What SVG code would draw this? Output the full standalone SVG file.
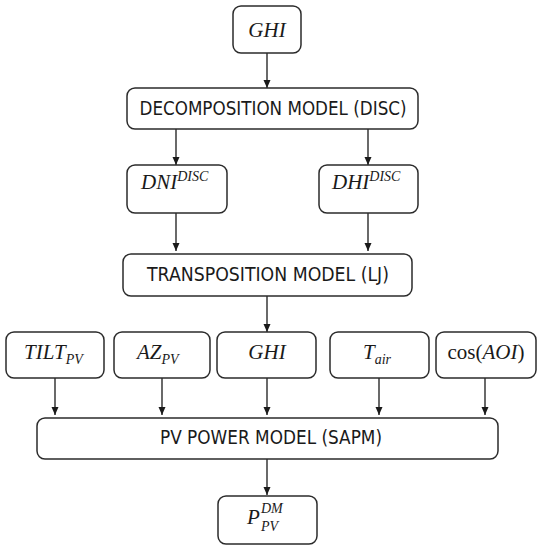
<svg xmlns="http://www.w3.org/2000/svg" width="542" height="550" viewBox="0 0 542 550">
<style>
.box{fill:#fff;stroke:#2b2b2b;stroke-width:1.5}
.lbl{font-family:"DejaVu Sans","Liberation Sans",sans-serif;font-size:20px;fill:#1a1a1a;text-anchor:middle}
.m{font-family:"Liberation Serif","DejaVu Serif",serif;font-style:italic;font-size:21px;fill:#1a1a1a}
.s{font-size:14px}
.up{font-style:normal}
.c{stroke:#1a1a1a;stroke-width:1.3;fill:none;marker-end:url(#ah)}
</style>
<defs>
<marker id="ah" viewBox="0 0 8 8" refX="8" refY="4" markerWidth="8" markerHeight="8" markerUnits="userSpaceOnUse" orient="auto">
<path d="M0,0.5 L8,4 L0,7.5 Z" fill="#1a1a1a"/>
</marker>
</defs>
<rect width="542" height="550" fill="#fff"/>
<g id="connectors">
<line class="c" x1="267" y1="53" x2="267" y2="88"/>
<line class="c" x1="176" y1="129" x2="176" y2="165"/>
<line class="c" x1="368" y1="129" x2="368" y2="165"/>
<line class="c" x1="176" y1="213" x2="176" y2="251"/>
<line class="c" x1="368" y1="213" x2="368" y2="251"/>
<line class="c" x1="267" y1="296" x2="267" y2="332"/>
<line class="c" x1="55" y1="378" x2="55" y2="415"/>
<line class="c" x1="162" y1="378" x2="162" y2="415"/>
<line class="c" x1="267" y1="378" x2="267" y2="415"/>
<line class="c" x1="379" y1="378" x2="379" y2="415"/>
<line class="c" x1="485" y1="378" x2="485" y2="415"/>
<line class="c" x1="267" y1="459" x2="267" y2="495"/>
</g>
<g id="ghi_top">
<rect class="box" x="233" y="6" width="68" height="47" rx="8"/>
<text class="m" x="267" y="37" text-anchor="middle">GHI</text>
</g>
<g id="decomposition">
<rect class="box" x="127" y="88" width="291" height="41" rx="8"/>
<text class="lbl" x="273" y="115" textLength="267" lengthAdjust="spacingAndGlyphs">DECOMPOSITION MODEL (DISC)</text>
</g>
<g id="dni">
<rect class="box" x="127" y="165" width="100" height="48" rx="8"/>
<text class="m" x="141" y="189">DNI<tspan class="s" y="181">DISC</tspan></text>
</g>
<g id="dhi">
<rect class="box" x="319" y="165" width="99" height="48" rx="8"/>
<text class="m" x="332" y="189">DHI<tspan class="s" y="181">DISC</tspan></text>
</g>
<g id="transposition">
<rect class="box" x="123" y="254" width="289" height="42" rx="8"/>
<text class="lbl" x="268" y="281" textLength="242" lengthAdjust="spacingAndGlyphs">TRANSPOSITION MODEL (LJ)</text>
</g>
<g id="tilt">
<rect class="box" x="6" y="332" width="98" height="46" rx="8"/>
<text class="m" x="24" y="359">TILT<tspan class="s" y="364">PV</tspan></text>
</g>
<g id="az">
<rect class="box" x="114" y="332" width="96" height="46" rx="8"/>
<text class="m" x="137" y="359">AZ<tspan class="s" y="364">PV</tspan></text>
</g>
<g id="ghi_row">
<rect class="box" x="217" y="332" width="99" height="46" rx="8"/>
<text class="m" x="267" y="359" text-anchor="middle">GHI</text>
</g>
<g id="tair">
<rect class="box" x="330" y="332" width="99" height="46" rx="8"/>
<text class="m" x="363" y="359">T<tspan class="s" y="364">air</tspan></text>
</g>
<g id="cosaoi">
<rect class="box" x="436" y="332" width="100" height="46" rx="8"/>
<text class="m" x="486" y="359" text-anchor="middle"><tspan class="up">cos(</tspan>AOI<tspan class="up">)</tspan></text>
</g>
<g id="pvpower">
<rect class="box" x="37" y="418" width="461" height="41" rx="8"/>
<text class="lbl" x="271" y="444" textLength="222" lengthAdjust="spacingAndGlyphs">PV POWER MODEL (SAPM)</text>
</g>
<g id="pdm">
<rect class="box" x="218" y="496" width="99" height="48" rx="8"/>
<text class="m" x="247" y="524">P</text>
<text class="m s" x="261" y="513">DM</text>
<text class="m s" x="261" y="531">PV</text>
</g>
</svg>
